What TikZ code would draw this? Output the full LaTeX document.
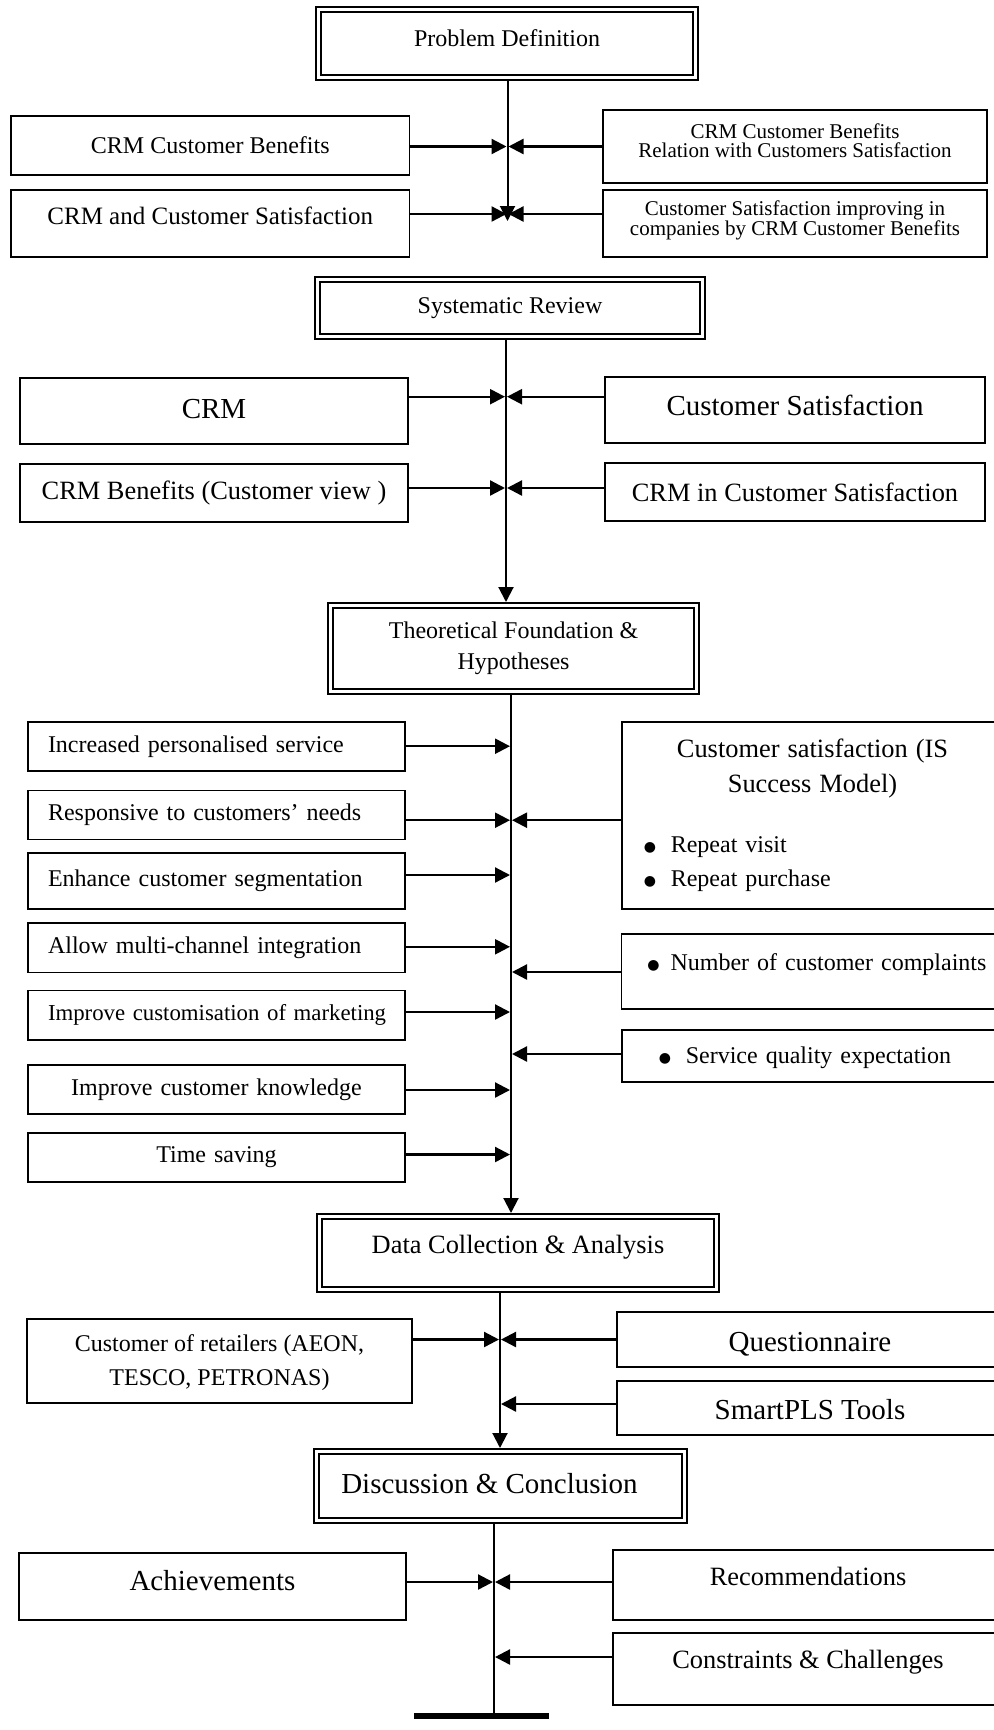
\documentclass[tikz,border=0pt]{standalone}
\usepackage{fontspec}
\setmainfont{Liberation Serif}
\newfontfamily\dotfont{DejaVu Sans}
\usetikzlibrary{arrows.meta}
\newcommand{\liftby}[2]{\raisebox{#1}[\height][\depth]{#2}}
\newcommand{\dotmark}{\raisebox{0.5pt}{\dotfont\fontsize{7}{7}\selectfont ●}}

\begin{document}
\begin{tikzpicture}[x=0.5pt, y=-0.5pt,
  every node/.style={font=\fontsize{12}{15}\selectfont, align=center},
  box/.style={draw, line width=0.9pt, inner sep=2pt},
  stage/.style={draw, double, double distance=1.6pt, line width=1pt, outer sep=1.8pt, inner sep=0pt},
  benefit/.style={box, text width=168.5pt, inner xsep=10pt, align=left},
  measure/.style={box, text width=178pt, inner xsep=6.25pt, align=left},
  bigtxt/.style={font=\fontsize{14.5}{17}\selectfont},
  midtxt/.style={font=\fontsize{13.2}{15.5}\selectfont},
  smalltxt/.style={font=\fontsize{10.5}{9.2}\selectfont},
  arr/.style={-{Triangle[length=7.5pt,width=7.5pt]}, line width=1.15pt, shorten >=0.5pt},
  spine/.style={line width=1pt},
  spinearr/.style={spine, -{Triangle[length=7.5pt,width=7.5pt]}},
]
  \useasboundingbox (0,0) rectangle (993,1730);

  % Stage 1 - Problem definition
  \node[stage, minimum width=188.4pt, minimum height=33.9pt] (pd) at (507,43.5) {\liftby{2.5pt}{Problem Definition}};
  \node[box, minimum width=199.25pt, minimum height=29.5pt] (crmben) at (210.25,145.5) {CRM Customer Benefits};
  \node[box, minimum width=199.25pt, minimum height=33.35pt, font=\fontsize{12.5}{15}\selectfont] (crmsat) at (210.25,223.65) {\liftby{4pt}{CRM and Customer Satisfaction}};
  \node[box, smalltxt, minimum width=192pt, minimum height=36.5pt] (relsat) at (795,146.5) {\liftby{2.8pt}{\parbox{188pt}{\centering CRM Customer Benefits\\ Relation with Customers Satisfaction}}};
  \node[box, font=\fontsize{10.5}{10}\selectfont, minimum width=192pt, minimum height=33.5pt] (improv) at (795,223.5) {\liftby{1.75pt}{\parbox{188pt}{\centering Customer Satisfaction improving in\\ companies by CRM Customer Benefits}}};

  % Stage 2 - Systematic review
  \node[stage, minimum width=192.4pt, minimum height=28.4pt] (sysrev) at (510,308) {Systematic Review};
  \node[box, bigtxt, minimum width=194pt, minimum height=33pt] (crm) at (214,411) {\liftby{1pt}{CRM}};
  \node[box, bigtxt, minimum width=190pt, minimum height=32.85pt] (custsat) at (795,409.85) {\liftby{2.4pt}{Customer Satisfaction}};
  \node[box, midtxt, minimum width=194pt, minimum height=29pt] (crmview) at (214,493) {CRM Benefits (Customer view )};
  \node[box, midtxt, minimum width=190pt, minimum height=29pt] (crmincs) at (795,492) {CRM in Customer Satisfaction};

  % Stage 3 - Theory and hypotheses
  \node[stage, minimum width=182.9pt, minimum height=42.9pt, font=\fontsize{12}{15.5}\selectfont] (theo) at (513.5,648.5) {Theoretical Foundation \&\\ Hypotheses};
  \node[benefit, minimum height=24.35pt] (pers) at (216.5,746.35) {Increased personalised service};
  \node[benefit, minimum height=24.5pt] (resp) at (216.5,815) {Responsive to customers’ needs};
  \node[benefit, minimum height=28pt] (segm) at (216.5,881) {\liftby{0.3pt}{Enhance customer segmentation}};
  \node[benefit, minimum height=24.6pt] (multi) at (216.5,947.8) {Allow multi-channel integration};
  \node[benefit, minimum height=24.6pt, font=\fontsize{11.4}{14}\selectfont] (mkt) at (216.5,1015) {\mbox{Improve customisation of marketing}};
  \node[benefit, align=center, minimum height=24.6pt] (know) at (216.5,1089.4) {Improve customer knowledge};
  \node[benefit, align=center, minimum height=24.6pt] (time) at (216.5,1157.3) {Time saving};
  \node[measure, minimum height=93.5pt] (issm) at (812.5,815.5) {%
    {\centering\fontsize{13.2}{17.5}\selectfont Customer satisfaction (IS\\ Success Model)\par}
    \fontsize{12}{17}\selectfont
    \vspace{12.8pt}
    \hspace*{4.65pt}\dotmark\hspace{7.4pt}Repeat visit\\
    \hspace*{4.65pt}\dotmark\hspace{7.4pt}Repeat purchase\par};
  \node[measure, minimum height=37.35pt] (compl) at (812,971.65) {\liftby{3.3pt}{\hspace*{6.65pt}\dotmark\hspace{5.5pt}Number of customer complaints}};
  \node[measure, minimum height=26pt] (servq) at (812.5,1056) {\liftby{-1pt}{\hspace*{12.15pt}\dotmark\hspace{7.4pt}Service quality expectation}};

  % Stage 4 - Data collection
  \node[stage, midtxt, minimum width=198.4pt, minimum height=36.4pt] (datacol) at (518,1253) {\liftby{3pt}{Data Collection \& Analysis}};
  \node[box, minimum width=192.5pt, minimum height=42pt, font=\fontsize{12}{17}\selectfont] (retail) at (219.5,1361) {\liftby{-1pt}{\parbox{188pt}{\centering Customer of retailers (AEON,\\ TESCO, PETRONAS)}}};
  \node[box, bigtxt, minimum width=193pt, minimum height=27.5pt] (quest) at (810,1339.5) {\liftby{-2.2pt}{Questionnaire}};
  \node[box, bigtxt, minimum width=193pt, minimum height=27pt] (spls) at (810,1408) {\liftby{-1pt}{SmartPLS Tools}};

  % Stage 5 - Discussion
  \node[stage, bigtxt, minimum width=183.9pt, minimum height=34.4pt] (disc) at (500.5,1486) {\liftby{1pt}{Discussion \& Conclusion\hspace{11pt}}};
  \node[box, bigtxt, minimum width=193.5pt, minimum height=33.5pt] (ach) at (212.5,1586.5) {\liftby{2.75pt}{Achievements}};
  \node[box, midtxt, minimum width=195pt, minimum height=35pt] (rec) at (808,1585) {\liftby{4.5pt}{Recommendations}};
  \node[box, midtxt, minimum width=195pt, minimum height=36pt] (cons) at (808,1669) {\liftby{3.5pt}{Constraints \& Challenges}};

  % Junctions on the spines
  \coordinate (a1) at (507.5,146.5);
  \coordinate (a2) at (507.5,214);
  \coordinate (a3) at (507.5,221);
  \coordinate (b1) at (506,396.7);
  \coordinate (b2) at (506,488);
  \coordinate (c1) at (511,746.2);
  \coordinate (c2) at (511,820.2);
  \coordinate (c3) at (511,875);
  \coordinate (c4) at (511,946.8);
  \coordinate (c5) at (511,1012);
  \coordinate (c6) at (511,1090);
  \coordinate (c7) at (511,1154.5);
  \coordinate (c8) at (511,972);
  \coordinate (c9) at (511,1054);
  \coordinate (d1) at (500,1339.5);
  \coordinate (d2) at (500,1404);
  \coordinate (e1) at (494,1582);
  \coordinate (e2) at (494,1657);
  \coordinate (e3) at (494,1716);

  % Spines
  \draw[spinearr] (pd.south -| a1) -- (a3);
  \draw[spinearr] (sysrev.south -| b1) -- (theo.north -| b1);
  \draw[spinearr] (theo.south -| c1) -- (datacol.north -| c1);
  \draw[spinearr] (datacol.south -| d1) -- (disc.north -| d1);
  \draw[line width=0.75pt] (disc.south -| e1) -- (e3);
  \draw[line width=3pt] ([xshift=-40pt]e3) -- ([xshift=27.5pt]e3);

  % Arrows
  \draw[arr] (crmben.east |- a1) -- (a1);
  \draw[arr] (relsat.west |- a1) -- (a1);
  \draw[arr] (crmsat.east |- a2) -- (a2);
  \draw[arr] (improv.west |- a2) -- (a2);
  \draw[arr] (crm.east |- b1) -- (b1);
  \draw[arr] (custsat.west |- b1) -- (b1);
  \draw[arr] (crmview.east |- b2) -- (b2);
  \draw[arr] (crmincs.west |- b2) -- (b2);
  \draw[arr] (pers.east |- c1) -- (c1);
  \draw[arr] (resp.east |- c2) -- (c2);
  \draw[arr] (segm.east |- c3) -- (c3);
  \draw[arr] (multi.east |- c4) -- (c4);
  \draw[arr] (mkt.east |- c5) -- (c5);
  \draw[arr] (know.east |- c6) -- (c6);
  \draw[arr] (time.east |- c7) -- (c7);
  \draw[arr] (issm.west |- c2) -- (c2);
  \draw[arr] (compl.west |- c8) -- (c8);
  \draw[arr] (servq.west |- c9) -- (c9);
  \draw[arr] (retail.east |- d1) -- (d1);
  \draw[arr] (quest.west |- d1) -- (d1);
  \draw[arr] (spls.west |- d2) -- (d2);
  \draw[arr] (ach.east |- e1) -- (e1);
  \draw[arr] (rec.west |- e1) -- (e1);
  \draw[arr] (cons.west |- e2) -- (e2);
\end{tikzpicture}
\end{document}
